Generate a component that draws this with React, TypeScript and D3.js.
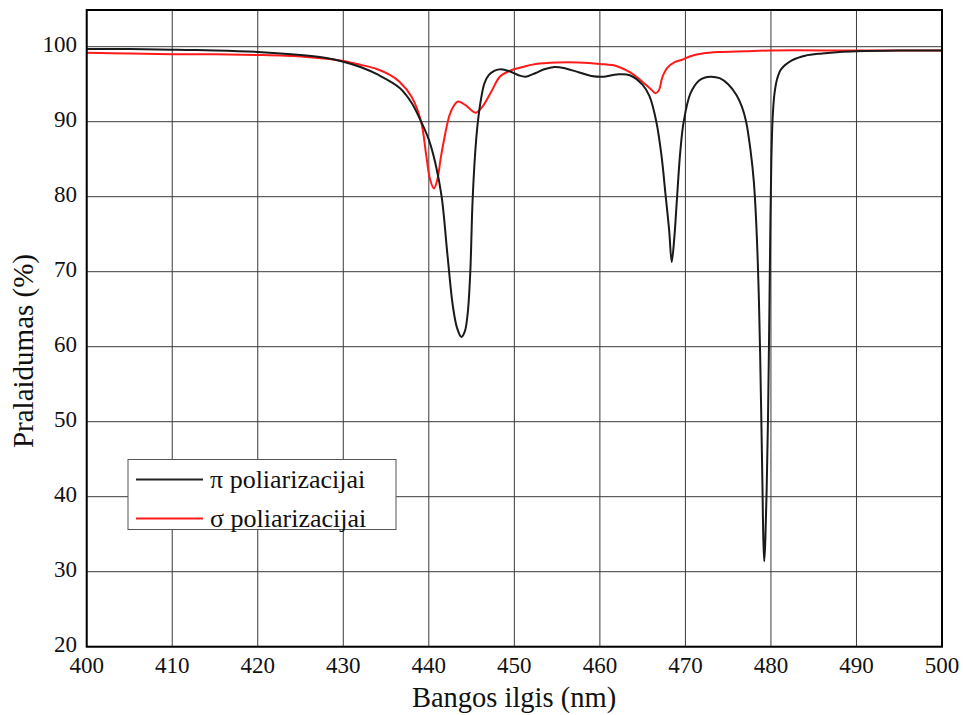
import React from "react";
import * as d3 from "d3";

const xTicks = [400, 410, 420, 430, 440, 450, 460, 470, 480, 490, 500];
const yTicks = [20, 30, 40, 50, 60, 70, 80, 90, 100];

const piWl = [400, 405, 410, 415, 420, 425, 428, 430, 432, 434, 436.6, 438, 439.1, 440, 440.8, 441.5, 442.2, 442.8, 443.3, 443.8, 444.2, 444.55, 444.85, 445.1, 445.4, 445.7, 446.1, 446.5, 447, 447.7, 448.4, 449.5, 450.5, 451.3, 452.5, 453.5, 454.7, 456, 457.5, 459, 460.5, 462, 463.5, 465.0, 465.8, 466.6, 467.2, 467.7, 468.1, 468.4, 468.7, 469.0, 469.4, 469.8, 470.6, 471.6, 472.3, 473, 474, 475, 476, 476.6, 477.1, 477.6, 478.0, 478.3, 478.6, 478.85, 479.0, 479.12, 479.22, 479.35, 479.5, 479.65, 479.8, 479.92, 480.05, 480.2, 480.4, 480.7, 481.2, 482.5, 484, 486, 488, 490, 495, 500];
const piVal = [99.7, 99.7, 99.6, 99.5, 99.3, 98.9, 98.5, 98.0, 97.3, 96.3, 94.5, 92.5, 90.0, 87.6, 84.3, 80.0, 72.0, 65.5, 62.5, 61.3, 62.0, 64.5, 70.0, 79.0, 85.5, 89.6, 93.0, 95.1, 96.2, 96.8, 97.0, 96.7, 96.2, 96.0, 96.5, 97.0, 97.3, 97.1, 96.6, 96.1, 96.0, 96.3, 96.2, 94.9, 93.4, 90.0, 85.5, 80.0, 75.5, 71.3, 74.5, 79.5, 86.0, 90.0, 93.8, 95.5, 95.9, 96.0, 95.8, 95.0, 93.5, 92.0, 90.0, 86.3, 82.0, 76.0, 66.0, 52.0, 42.0, 34.0, 31.4, 34.5, 41.0, 50.0, 63.0, 75.0, 85.0, 90.5, 93.6, 95.6, 97.0, 98.2, 98.8, 99.1, 99.3, 99.4, 99.5, 99.5];

const sigmaWl = [400, 405, 410, 415, 420, 425, 428, 430, 432, 434, 435.5, 436.6, 438, 439.1, 439.7, 440.15, 440.6, 441.0, 441.4, 441.9, 442.4, 442.9, 443.4, 444.3, 445, 445.5, 446.2, 447.3, 448.3, 449.5, 451, 452.5, 455, 457.5, 460, 462, 463.5, 464.5, 465.3, 466, 466.5, 466.9, 467.3, 467.9, 468.7, 469.7, 470.5, 472, 474, 477, 480, 490, 500];
const sigmaVal = [99.2, 99.1, 99.0, 99.0, 98.9, 98.7, 98.4, 98.1, 97.6, 97.0, 96.2, 95.3, 93.3, 90.0, 85.5, 82.3, 81.1, 82.3, 85.2, 88.3, 90.8, 92.1, 92.7, 92.2, 91.5, 91.2, 91.9, 94.0, 96.0, 96.8, 97.3, 97.7, 97.9, 97.9, 97.7, 97.4, 96.6, 95.8, 95.0, 94.3, 93.8, 94.2, 95.9, 97.2, 97.9, 98.3, 98.7, 99.1, 99.3, 99.4, 99.5, 99.5, 99.5];

const legendLabels = ["\u03c0 poliarizacijai", "\u03c3 poliarizacijai"];
const xTitle = "Bangos ilgis (nm)";
const yTitle = "Pralaidumas (%)";

export default function App() {
  const W = 963, H = 715;
  const left = 86.7, right = 942, bottom = 646.7, top = 10;
  const x = d3.scaleLinear().domain([400, 500]).range([left, right]);
  const y = d3.scaleLinear().domain([20, 100]).range([bottom, 46.7]);
  const line = d3
    .line<[number, number]>()
    .x((d) => x(d[0]))
    .y((d) => y(d[1]))
    .curve(d3.curveCatmullRom.alpha(0.5));
  const piData = piWl.map((w, i) => [w, piVal[i]] as [number, number]);
  const sigmaData = sigmaWl.map((w, i) => [w, sigmaVal[i]] as [number, number]);
  const tf = { fontFamily: "'Liberation Serif', 'Times New Roman', 'DejaVu Serif', serif" };
  const black = "#1a1a1a";
  const red = "#ff1a1a";

  return (
    <svg
      width={W}
      height={H}
      style={{ position: "absolute", left: 0, top: 0, background: "#fff" }}
    >
      <rect x={0} y={0} width={W} height={H} fill="#fff" />
      {xTicks.map((t) => (
        <line key={"gx" + t} x1={x(t)} x2={x(t)} y1={top} y2={bottom} stroke="#3a3a3a" strokeWidth={1} />
      ))}
      {yTicks.map((t) => (
        <line key={"gy" + t} x1={left} x2={right} y1={y(t)} y2={y(t)} stroke="#3a3a3a" strokeWidth={1} />
      ))}
      <path d={line(sigmaData) || ""} fill="none" stroke={red} strokeWidth={2} />
      <path d={line(piData) || ""} fill="none" stroke={black} strokeWidth={2} />
      <rect x={left} y={top} width={right - left} height={bottom - top} fill="none" stroke="#000" strokeWidth={2} />
      {xTicks.map((t) => (
        <text key={"tx" + t} style={tf} x={x(t)} y={673} textAnchor="middle" fontSize={23} fill="#111">
          {t}
        </text>
      ))}
      {yTicks.map((t) => (
        <text key={"ty" + t} style={tf} x={77} y={y(t) + 5} textAnchor="end" fontSize={23} fill="#111">
          {t}
        </text>
      ))}
      <text style={tf} x={514} y={707} textAnchor="middle" fontSize={28.5} fill="#111">
        {xTitle}
      </text>
      <text
        style={tf}
        transform={`translate(33,351) rotate(-90)`}
        textAnchor="middle"
        fontSize={29}
        fill="#111"
      >
        {yTitle}
      </text>
      <g>
        <rect x={128} y={459.5} width={268} height={70} fill="#fff" stroke="#555" strokeWidth={1} />
        <line x1={136} x2={203} y1={479.5} y2={479.5} stroke="#222" strokeWidth={2} />
        <line x1={136} x2={203} y1={518.5} y2={518.5} stroke={red} strokeWidth={2} />
        <text style={tf} x={210} y={488} fontSize={26} fill="#111">{legendLabels[0]}</text>
        <text style={tf} x={210} y={527} fontSize={26} fill="#111">{legendLabels[1]}</text>
      </g>
    </svg>
  );
}
